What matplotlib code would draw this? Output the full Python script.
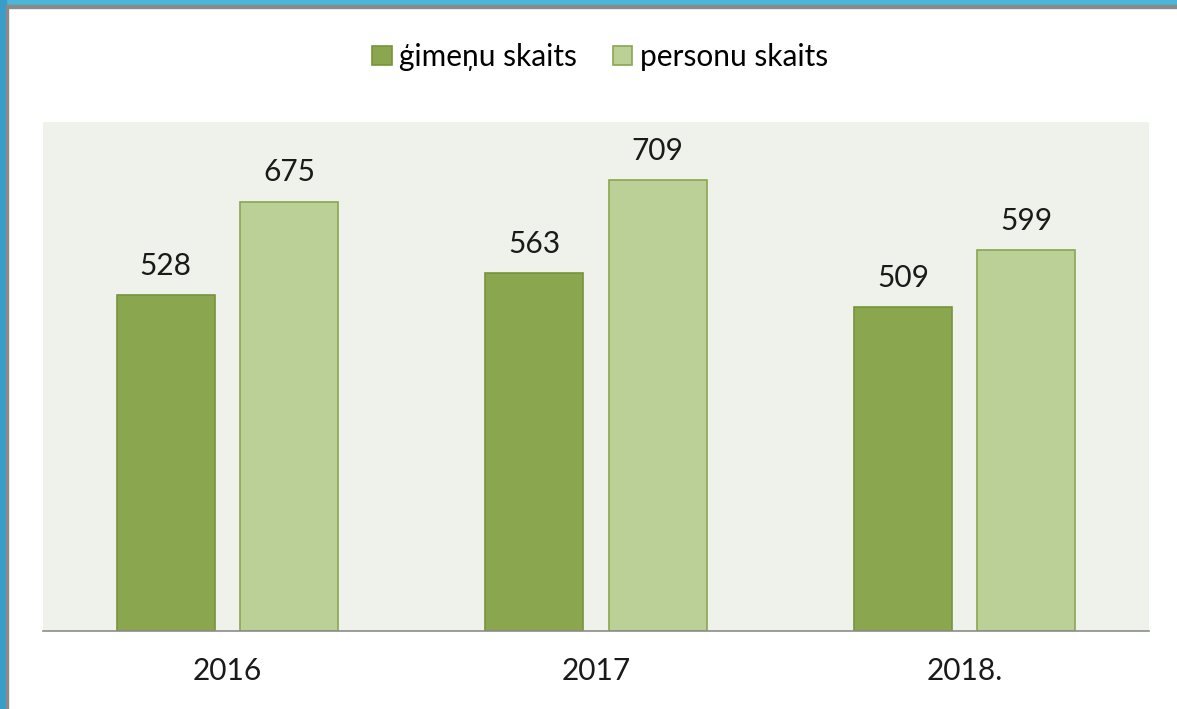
import matplotlib
matplotlib.use("Agg")
import matplotlib.pyplot as plt
from matplotlib.patches import Rectangle
import numpy as np

# ── Data ──────────────────────────────────────────────────────────────────────
years = ["2016", "2017", "2018."]
families = [528, 563, 509]
persons = [675, 709, 599]
series_names = ["ģimeņu skaits", "personu skaits"]

DARK = "#8AA64F"
LIGHT = "#BBD097"
DARK_EDGE = "#77933C"
LIGHT_EDGE = "#8AA64F"
BG = "#EFF2EA"
FS = 21.5

plt.rcParams["font.family"] = ["Lato", "DejaVu Sans"]

W, H = 1177, 709
fig = plt.figure(figsize=(W / 100, H / 100), dpi=100)
fig.patch.set_facecolor("white")

# plot area in pixels: x 43..1149, y 122..631
ax = fig.add_axes([43 / W, 1 - 631 / H, (1149 - 43) / W, (631 - 122) / H])
ax.set_facecolor(BG)

x = np.arange(len(years))
width = 0.266
off = 0.167
b1 = ax.bar(x - off, families, width, color=DARK, edgecolor=DARK_EDGE,
            linewidth=1.2, label=series_names[0])
b2 = ax.bar(x + off, persons, width, color=LIGHT, edgecolor=LIGHT_EDGE,
            linewidth=1.2, label=series_names[1])

for bars, vals in ((b1, families), (b2, persons)):
    for r, v in zip(bars, vals):
        ax.annotate(f"{v}", xy=(r.get_x() + r.get_width() / 2, v),
                    xytext=(0, 11), textcoords="offset points",
                    ha="center", va="bottom", fontsize=FS, color="#1a1a1a")

ax.set_xlim(-0.5, len(years) - 0.5)
ax.set_ylim(0, 800)
ax.set_xticks(x)
ax.set_xticklabels(years, fontsize=FS, color="#1a1a1a")
ax.tick_params(axis="x", length=0, pad=19)
ax.set_yticks([])
for s in ("top", "right", "left"):
    ax.spines[s].set_visible(False)
ax.spines["bottom"].set_color("#8C8C8C")
ax.spines["bottom"].set_linewidth(1.2)

fig.legend(handles=[b1, b2], labels=series_names, loc="center",
           bbox_to_anchor=(600 / W, 1 - 57 / H), ncol=2, frameon=False,
           fontsize=FS, handlelength=0.65, handleheight=0.65,
           handletextpad=0.25, columnspacing=1.2)

# ── Frame (blue border top/left with gray inner line) ─────────────────────────
fig.patches.append(Rectangle((0, 1 - 5 / H), 1, 5 / H, transform=fig.transFigure,
                             color="#4BB6DA", zorder=10))
fig.patches.append(Rectangle((6 / W, 1 - 8 / H), 1, 3 / H, transform=fig.transFigure,
                             color="#8A8A8A", zorder=10))
fig.patches.append(Rectangle((0, 0), 6 / W, 1, transform=fig.transFigure,
                             color="#3A9CC8", zorder=10))
fig.patches.append(Rectangle((6 / W, 0), 2 / W, 1 - 5 / H, transform=fig.transFigure,
                             color="#8A8A8A", zorder=10))

fig.savefig("out.png", dpi=100)
